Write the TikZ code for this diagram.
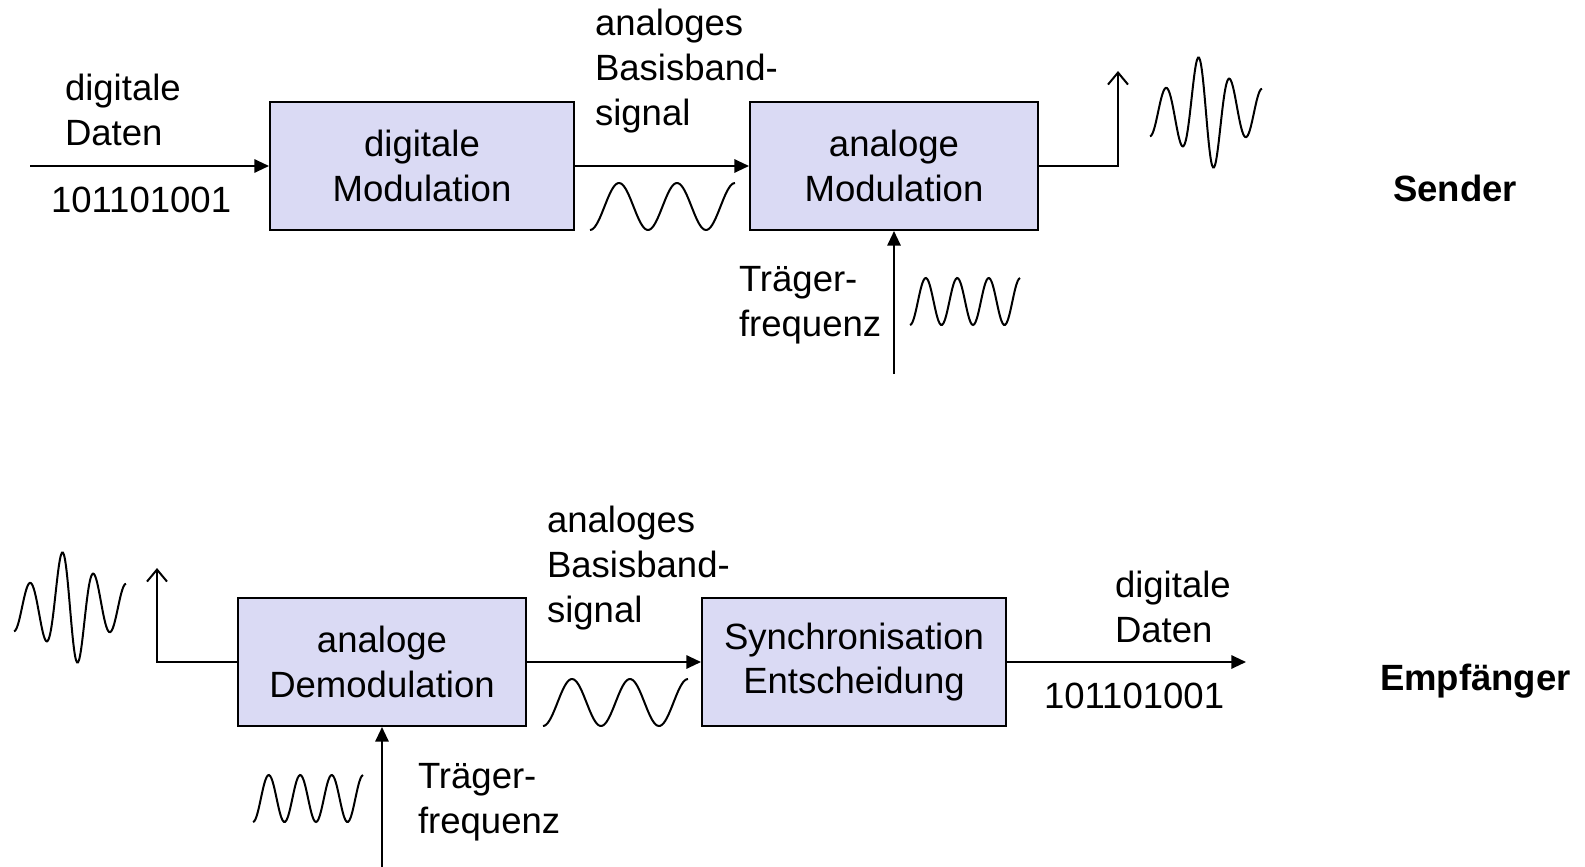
\documentclass[tikz,border=0pt]{standalone}
\usepackage{fontspec}
\setmainfont{Liberation Sans}
\usetikzlibrary{arrows.meta}
\definecolor{boxfill}{RGB}{218,218,244}
\newcommand{\bigtxt}{\fontsize{27.4}{33.6}\selectfont}

\begin{document}
\begin{tikzpicture}[x=0.75pt, y=-0.75pt, line width=1.5pt,
        >={Triangle[length=11pt,width=10pt]},
        open/.style={-{Straight Barb[length=9pt,width=15pt]}},
        block/.style={draw, fill=boxfill, align=center, font=\bigtxt, inner sep=0pt, minimum height=96pt},
        lbl/.style={align=left, font=\bigtxt, inner sep=0pt, anchor=west}]
        \useasboundingbox (0,0) rectangle (1585,867);

        % ---------- Sender ----------
        % the two blocks of the sender
        \node[block, minimum width=228pt] (digmod) at (422,166) {digitale\\Modulation};
        \node[block, minimum width=216pt] (anamod) at (894,166) {analoge\\Modulation};

        % free ends of the connectors
        \coordinate (datain) at (30,166);
        \coordinate (sendtop) at (1118,71);
        \coordinate (carrtop) at (894,374);

        % input data -> digital modulation
        \draw[->] (datain) -- (digmod.west);
        \node[lbl] (datenin) at (64,110) {digitale\\Daten};
        \node[lbl] (bitsin) at (50,200) {101101001};

        % baseband signal between the blocks
        \draw[->] (digmod.east) -- (anamod.west);
        \node[lbl] (basis1) at (594,71) {analoges\\Basisband-\\signal};
        \draw plot[domain=590:735, samples=90, smooth] (\x, {206.5+23.5*cos(6.207*(\x-590))});

        % carrier into the analog modulation
        \draw[->] (carrtop) -- (anamod.south);
        \node[lbl] (traeger1) at (738,305) {Träger-\\frequenz};
        \draw plot[domain=910:1020, samples=90, smooth] (\x, {301.5+23.5*cos(11.43*(\x-910))});

        % output of the sender (antenna)
        \draw[open] (anamod.east) -| (sendtop);
        \draw plot[domain=1150:1262, samples=120, smooth]
            (\x, {112.5+(23.7+36*exp(0-((\x-1206)/21)^2))*cos(11.25*(\x-1150))});

        \node[lbl, font=\bigtxt\bfseries] (sender) at (1392,188) {Sender};

        % ---------- Empfaenger ----------
        % the two blocks of the receiver
        \node[block, minimum width=216pt] (anademod) at (382,662) {analoge\\Demodulation};
        \node[block, minimum width=228pt] (sync) at (854,662) {Synchronisation\\Entscheidung};

        % free ends of the connectors
        \coordinate (recvtop) at (157,568);
        \coordinate (dataout) at (1246,662);
        \coordinate (carrbot) at (382,867);

        % received signal (antenna)
        \draw[open] (anademod.west) -| (recvtop);
        \draw plot[domain=14:126, samples=120, smooth]
            (\x, {607.5+(23.7+36*exp(0-((\x-70)/21)^2))*cos(11.25*(\x-14))});

        % baseband signal between the blocks
        \draw[->] (anademod.east) -- (sync.west);
        \node[lbl] (basis2) at (546,568) {analoges\\Basisband-\\signal};
        \draw plot[domain=543:688, samples=90, smooth] (\x, {702.5+23.5*cos(6.207*(\x-543))});

        % carrier into the demodulation
        \draw[->] (carrbot) -- (anademod.south);
        \node[lbl] (traeger2) at (417,802) {Träger-\\frequenz};
        \draw plot[domain=253:363, samples=90, smooth] (\x, {798.5+23.5*cos(11.43*(\x-253))});

        % output data
        \draw[->] (sync.east) -- (dataout);
        \node[lbl] (datenout) at (1114,607) {digitale\\Daten};
        \node[lbl] (bitsout) at (1043,696) {101101001};

        \node[lbl, font=\bigtxt\bfseries] (empf) at (1379,681) {Empfänger};
    \end{tikzpicture}
\end{document}
